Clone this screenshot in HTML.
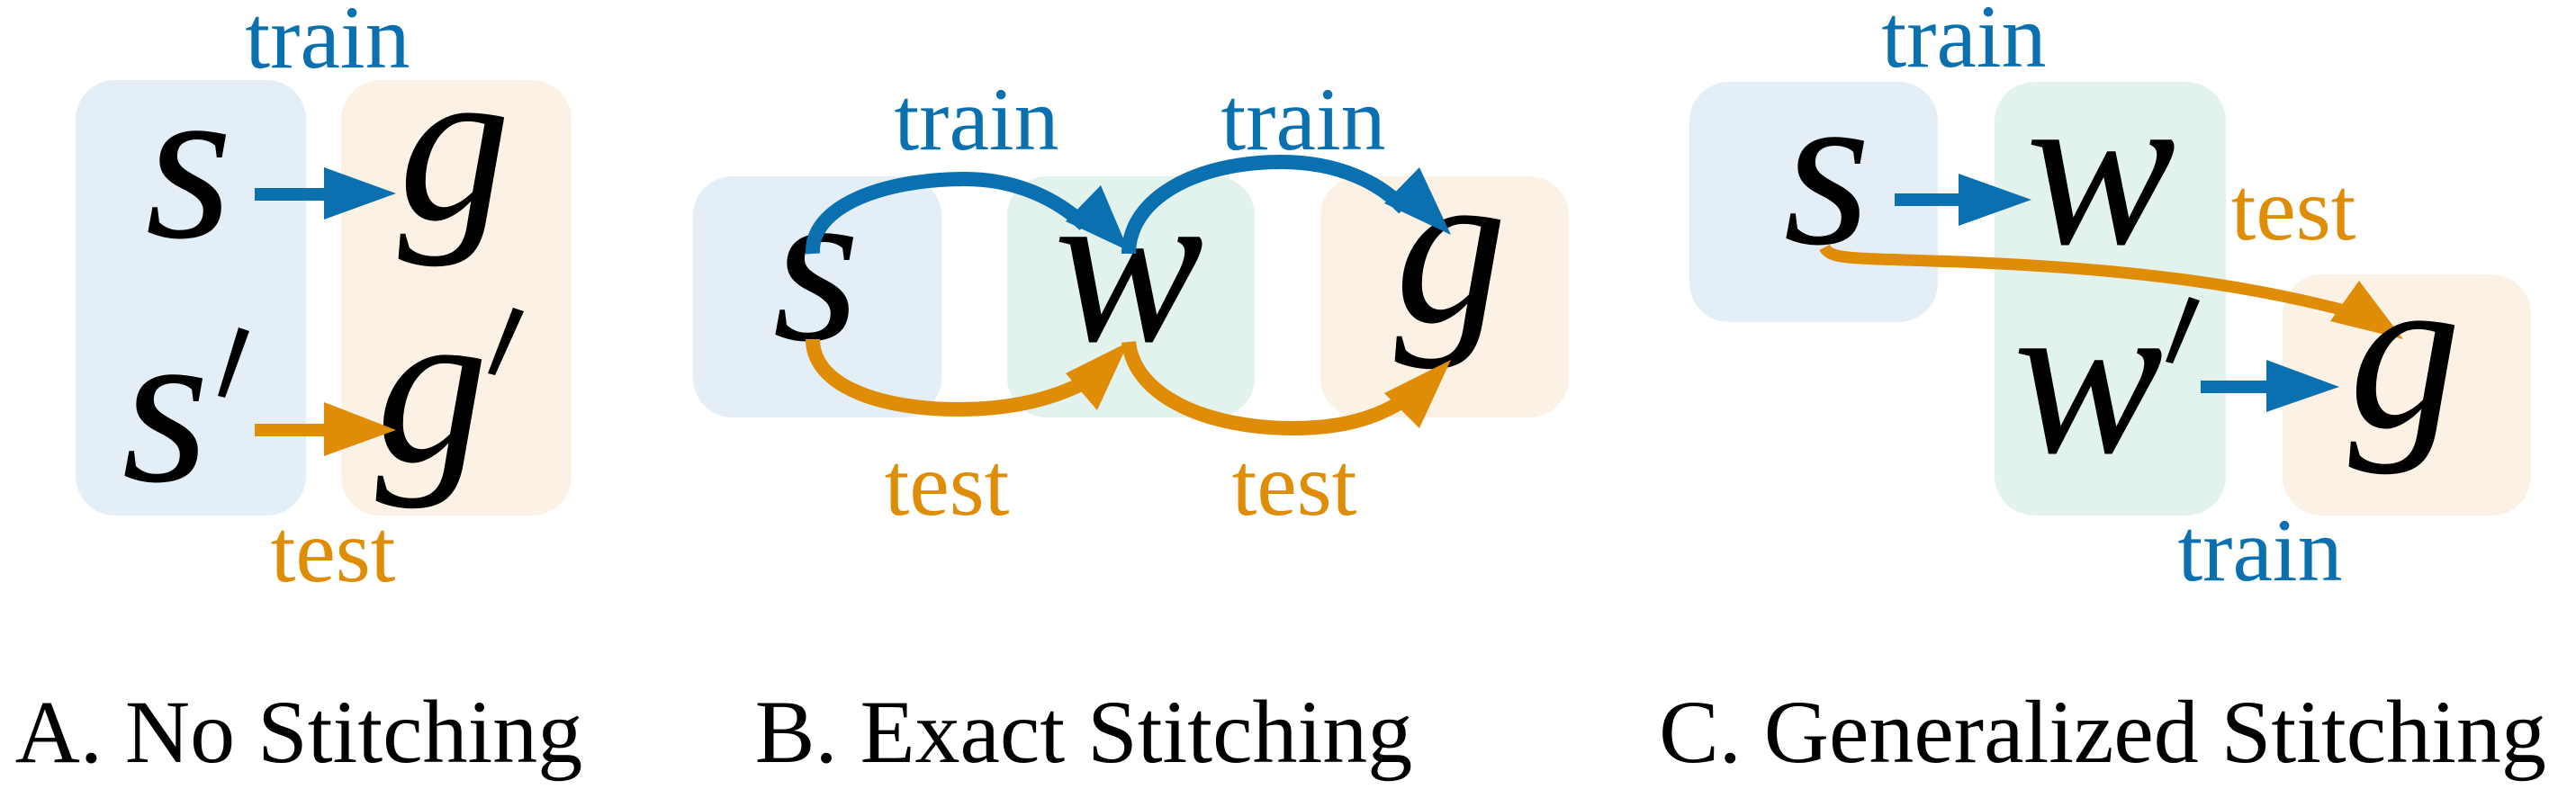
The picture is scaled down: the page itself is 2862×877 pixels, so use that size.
<!DOCTYPE html>
<html><head><meta charset="utf-8"><style>
html,body{margin:0;padding:0;background:#fff;}
svg{display:block;font-family:"Liberation Serif","Times New Roman",serif;}
svg text{font-family:"Liberation Serif","Times New Roman",serif;}
.m{font-style:italic;font-size:250px;fill:#000;text-anchor:middle;}
.lb{font-size:100px;text-anchor:middle;}
.b{fill:#0a70b0;}
.o{fill:#df8c06;}
</style></head><body>
<svg width="2862" height="877" viewBox="0 0 2862 877" xmlns="http://www.w3.org/2000/svg" font-family="Liberation Serif, Times New Roman, serif">
<!-- Panel A -->
<rect x="84" y="89" width="256" height="484" rx="44" fill="#e3eef6"/>
<rect x="379" y="89" width="256" height="484" rx="44" fill="#fbf1e4"/>
<text class="lb b" x="364" y="75">train</text>
<text class="lb o" x="370" y="646">test</text>
<text class="m" x="210" y="263">s</text>
<text class="m" x="505" y="243">g</text>
<rect x="283" y="209" width="80" height="14" fill="#0a70b0"/>
<polygon points="360,186 440,215 360,244" fill="#0a70b0"/>
<text class="m" x="184" y="534">s</text>
<polygon points="265,364 277,368 250,442 242,440" fill="#000"/>
<text class="m" x="480" y="512">g</text>
<polygon points="570,342 582,346 550,417 542,415" fill="#000"/>
<rect x="283" y="471" width="80" height="14" fill="#df8c06"/>
<polygon points="360,447 440,478 360,507" fill="#df8c06"/>
<text x="332" y="847" font-size="100" text-anchor="middle">A. No Stitching</text>

<!-- Panel B -->
<rect x="770" y="196" width="276" height="268" rx="44" fill="#e3eef6"/>
<rect x="1119" y="196" width="275" height="268" rx="44" fill="#e2f3ee"/>
<rect x="1467" y="196" width="276" height="268" rx="44" fill="#fbf1e4"/>
<text class="lb b" x="1085" y="166">train</text>
<text class="lb b" x="1448" y="166">train</text>
<text class="lb o" x="1052" y="572">test</text>
<text class="lb o" x="1438" y="572">test</text>
<text class="m" x="907" y="377">s</text>
<text class="m" x="1254" y="378">w</text>
<text class="m" x="1612" y="357">g</text>
<g fill="none" stroke-width="16">
<path d="M903,282 C900,230 980,199 1072,199 C1130,199 1175,222 1205,250" stroke="#0a70b0"/>
<path d="M1254,282 C1254,220 1330,180 1423,180 C1490,180 1535,205 1560,232" stroke="#0a70b0"/>
<path d="M903,377 C903,430 980,455 1065,455 C1125,455 1170,443 1205,425" stroke="#df8c06"/>
<path d="M1254,380 C1260,440 1340,476 1437,476 C1495,476 1535,462 1562,443" stroke="#df8c06"/>
</g>
<polygon points="1184,246 1223,206 1254,279" fill="#0a70b0"/>
<polygon points="1538,226 1577,186 1612,261" fill="#0a70b0"/>
<polygon points="1184,415 1219,456 1254,380" fill="#df8c06"/>
<polygon points="1538,437 1577,476 1612,400" fill="#df8c06"/>
<text x="1204" y="847" font-size="100" text-anchor="middle">B. Exact Stitching</text>

<!-- Panel C -->
<rect x="1877" y="91" width="276" height="267" rx="44" fill="#e3eef6"/>
<rect x="2216" y="91" width="257" height="482" rx="44" fill="#e2f3ee"/>
<rect x="2536" y="305" width="276" height="268" rx="44" fill="#fbf1e4"/>
<text class="lb b" x="2182" y="74">train</text>
<text class="lb o" x="2548" y="266">test</text>
<text class="lb b" x="2511" y="645">train</text>
<text class="m" x="2030" y="270">s</text>
<text class="m" x="2334" y="270">w</text>
<rect x="2105" y="215" width="74" height="14" fill="#0a70b0"/>
<polygon points="2176,193 2257,222 2176,251" fill="#0a70b0"/>
<path d="M2027,275 C2035,290 2060,286 2200,292 C2380,300 2500,318 2605,345" fill="none" stroke="#df8c06" stroke-width="13"/>
<polygon points="2589,357 2621,312 2670,377" fill="#df8c06"/>
<text class="m" x="2320" y="502">w</text>
<polygon points="2432,330 2444,334 2414,404 2406,402" fill="#000"/>
<rect x="2445" y="423" width="76" height="14" fill="#0a70b0"/>
<polygon points="2518,400 2599,430 2518,458" fill="#0a70b0"/>
<text class="m" x="2672" y="474">g</text>
<text x="2336" y="847" font-size="100" text-anchor="middle">C. Generalized Stitching</text>
</svg>
</body></html>
